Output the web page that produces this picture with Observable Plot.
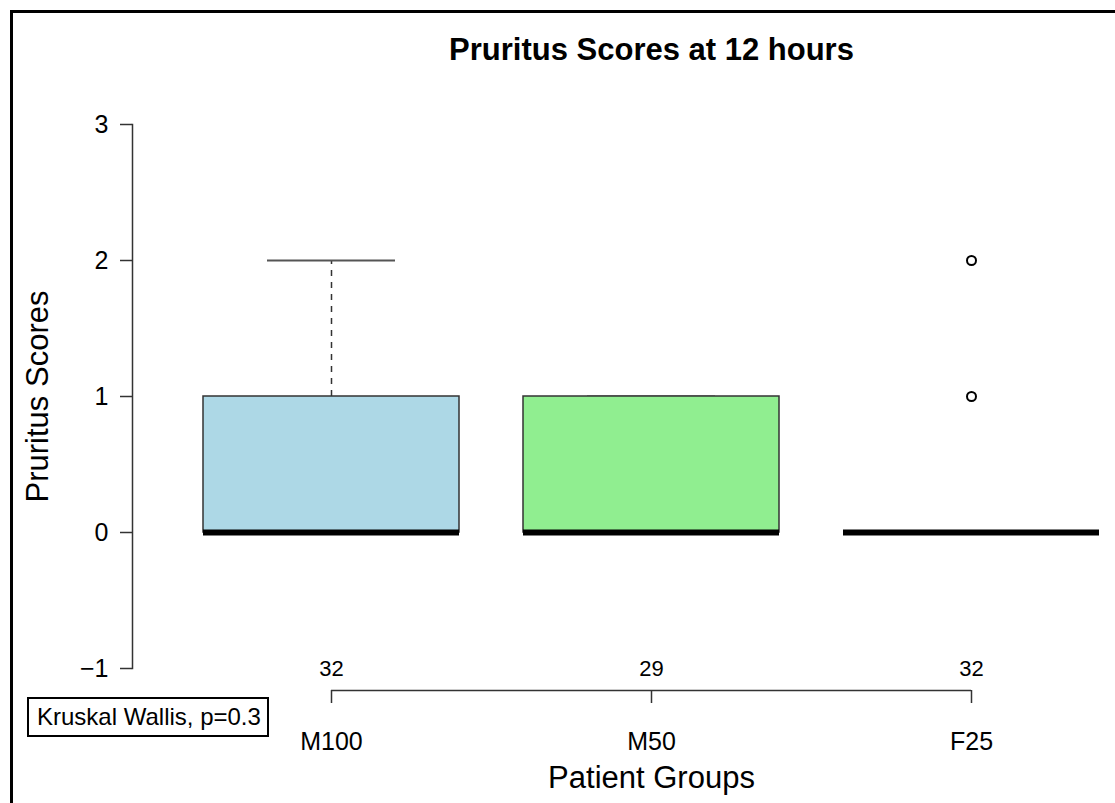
<!DOCTYPE html>
<html>
<head>
<meta charset="utf-8">
<script src="https://cdn.jsdelivr.net/npm/d3@7"></script>
<script src="https://cdn.jsdelivr.net/npm/@observablehq/plot@0.6"></script>
<style>
  html, body { margin: 0; padding: 0; background: #fff; overflow: hidden; }
  #wrap { position: relative; width: 1115px; height: 803px; font-family: "Liberation Sans", Arial, Helvetica, sans-serif; }
  #wrap svg { position: absolute; left: 0; top: 0; }
  #frame { position: absolute; left: 10px; top: 10px; width: 2000px; height: 2000px; border-left: 3px solid #000; border-top: 3px solid #000; pointer-events: none; }
  #stat { position: absolute; left: 27px; top: 697px; width: 230px; height: 36px; border: 2px solid #000; font-size: 24px; line-height: 36px; padding-left: 8px; box-sizing: content-box; color: #000; white-space: nowrap; }
</style>
</head>
<body>
<div id="wrap">
  <div id="chart"></div>
  <div id="frame"></div>
  <div id="stat">Kruskal Wallis, p=0.3</div>
</div>
<script>
const titleText = "Pruritus Scores at 12 hours";
const xLabel = "Patient Groups";
const yLabel = "Pruritus Scores";
const groups = ["M100", "M50", "F25"];
const counts = [32, 29, 32];
const q1 = [0, 0, 0];
const medians = [0, 0, 0];
const q3 = [1, 1, 0];
const whiskerLow = [0, 0, 0];
const whiskerHigh = [2, 1, 0];
const boxFills = ["#ADD8E6", "#90EE90", "#FFFFFF"];
const outlierGroups = ["F25", "F25"];
const outlierValues = [1, 2];
const yTicks = [-1, 0, 1, 2, 3];

const rows = groups.map((g, i) => ({
  g, idx: i + 1, n: counts[i], q1: q1[i], med: medians[i], q3: q3[i],
  lo: whiskerLow[i], hi: whiskerHigh[i], fill: boxFills[i]
}));
const outliers = outlierValues.map((v, i) => ({idx: groups.indexOf(outlierGroups[i]) + 1, v}));
const midGroup = (1 + groups.length) / 2;
const yMin = d3.min(yTicks), yMax = d3.max(yTicks);
const half = 0.4, capHalf = 0.2;
const lineColor = "#333";

const chart = Plot.plot({
  width: 1115,
  height: 803,
  marginLeft: 132,
  marginRight: 0,
  marginTop: 124,
  marginBottom: 135,
  style: {fontFamily: "'Liberation Sans', Arial, Helvetica, sans-serif", color: "#000", background: "transparent"},
  x: {domain: [0.5, groups.length + 0.5], range: [171, 1131]},
  y: {domain: [yMin, yMax]},
  marks: [
    Plot.frame({anchor: "left", stroke: lineColor, strokeWidth: 1.5}),
    Plot.axisY({ticks: yTicks, tickFormat: d3.format("d"), tickSize: 12, tickPadding: 12, fontSize: 25, label: null, stroke: lineColor, strokeWidth: 1.5}),
    Plot.ruleY([yMin], {x1: 1, x2: groups.length, dy: 22, stroke: lineColor, strokeWidth: 1.5}),
    Plot.axisX({ticks: rows.map(d => d.idx), tickFormat: i => groups[i - 1], tickSize: 13, tickPadding: 29, dy: 22, fontSize: 25, label: null, stroke: lineColor, strokeWidth: 1.5}),
    // whiskers
    Plot.ruleX(rows.filter(d => d.hi > d.q3), {x: "idx", y1: "q3", y2: "hi", stroke: lineColor, strokeWidth: 1.5, strokeDasharray: "6,6"}),
    Plot.ruleX(rows.filter(d => d.lo < d.q1), {x: "idx", y1: "lo", y2: "q1", stroke: lineColor, strokeWidth: 1.5, strokeDasharray: "6,6"}),
    Plot.ruleY(rows, {y: "hi", x1: d => d.idx - capHalf, x2: d => d.idx + capHalf, stroke: "#555", strokeWidth: 2}),
    Plot.ruleY(rows, {y: "lo", x1: d => d.idx - capHalf, x2: d => d.idx + capHalf, stroke: "#555", strokeWidth: 2}),
    // boxes
    Plot.rect(rows.filter(d => d.q3 > d.q1), {x1: d => d.idx - half, x2: d => d.idx + half, y1: "q1", y2: "q3", fill: "fill", stroke: lineColor, strokeWidth: 1.5}),
    // medians
    Plot.ruleY(rows, {y: "med", x1: d => d.idx - half, x2: d => d.idx + half, stroke: "#000", strokeWidth: 6}),
    // outliers
    Plot.dot(outliers, {x: "idx", y: "v", r: 4.5, stroke: "#000", strokeWidth: 2, fill: "#fff"}),
    // counts
    Plot.text(rows, {x: "idx", y: () => yMin, text: d => String(d.n), fontSize: 22, fill: "#000"}),
    // title & labels
    Plot.text([titleText], {x: () => midGroup, frameAnchor: "top", lineAnchor: "middle", dy: -74, fontSize: 31, fontWeight: "bold", fill: "#000"}),
    Plot.text([xLabel], {x: () => midGroup, frameAnchor: "bottom", lineAnchor: "middle", dy: 110, fontSize: 31, fill: "#000"}),
    Plot.text([yLabel], {frameAnchor: "left", textAnchor: "middle", lineAnchor: "middle", rotate: -90, dx: -94, fontSize: 31, fill: "#000"})
  ]
});
document.getElementById("chart").appendChild(chart);
</script>
</body>
</html>
